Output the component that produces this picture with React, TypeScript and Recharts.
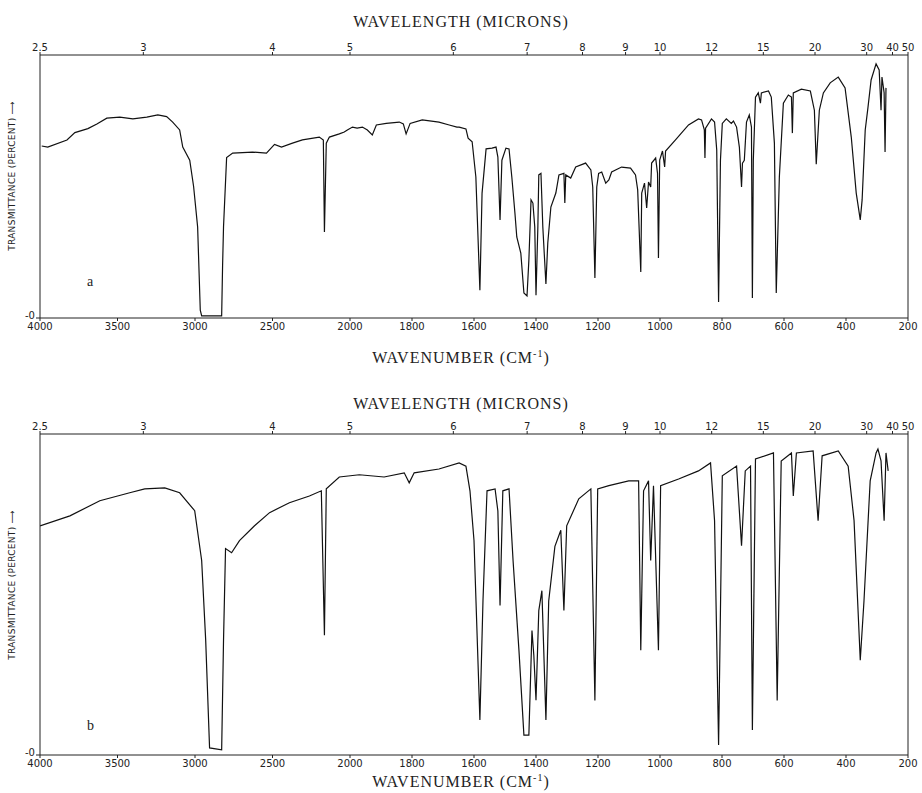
import React from 'react';
import { LineChart, Line, XAxis, YAxis } from 'recharts';

const WIDTH = 922;

// bottom scale in cm-1, top scale in microns
const WAVENUMBER_TICKS = [4000, 3500, 3000, 2500, 2000, 1800, 1600, 1400, 1200, 1000, 800, 600, 400, 200];
const MICRON_TICKS = [2.5, 3, 4, 5, 6, 7, 8, 9, 10, 12, 15, 20, 30, 40, 50];

// spectrum a
const A_WN = [3989, 3950, 3826, 3775, 3691, 3633, 3569, 3485, 3401, 3311, 3240, 3183, 3144, 3099, 3079, 3034, 3009, 2983, 2966, 2957, 2828, 2822, 2816, 2796, 2757, 2629, 2539, 2487, 2442, 2371, 2307, 2198, 2172, 2165, 2153, 2133, 2069, 2037, 2017, 1992, 1977, 1960, 1944, 1928, 1915, 1883, 1841, 1828, 1819, 1806, 1767, 1713, 1680, 1655, 1648, 1626, 1619, 1606, 1594, 1581, 1574, 1561, 1542, 1529, 1523, 1516, 1510, 1497, 1487, 1478, 1468, 1462, 1449, 1439, 1429, 1423, 1416, 1410, 1404, 1400, 1394, 1391, 1384, 1378, 1368, 1362, 1352, 1336, 1326, 1310, 1307, 1304, 1288, 1272, 1240, 1223, 1217, 1210, 1204, 1198, 1188, 1175, 1165, 1156, 1124, 1095, 1079, 1072, 1062, 1059, 1050, 1043, 1037, 1030, 1027, 1014, 1008, 1005, 1001, 992, 985, 982, 950, 908, 876, 866, 857, 855, 853, 834, 824, 817, 811, 805, 799, 786, 770, 763, 753, 744, 737, 734, 728, 721, 712, 705, 702, 699, 692, 683, 676, 673, 650, 641, 631, 625, 615, 602, 586, 576, 573, 570, 544, 515, 502, 496, 486, 473, 451, 425, 403, 383, 367, 354, 348, 338, 329, 319, 303, 293, 287, 284, 277, 274, 271];
const A_T = [65.4, 65, 67.7, 70.5, 72, 73.8, 76, 76.4, 75.7, 76.4, 77.2, 76.6, 74.5, 71.5, 65, 60, 50, 34.6, 3, 0.8, 0.8, 20, 34.6, 61, 62.7, 63.1, 62.7, 66, 65, 66.5, 67.7, 68.8, 67.7, 32.7, 66.5, 68.8, 70, 70.7, 71.5, 72.6, 72.2, 72.6, 71.5, 69.6, 73.4, 74, 74.5, 73.8, 70, 74, 75.3, 74.5, 73.4, 72.6, 72.6, 71.9, 68.4, 67, 53.6, 10.6, 47.5, 64.3, 64.6, 65, 61.2, 37.3, 60, 64.6, 64.3, 53.6, 39.9, 30.8, 24.7, 9.5, 8.4, 22, 44.9, 43.7, 34.6, 8.7, 34.6, 54.4, 55, 34.6, 12.9, 28.5, 42.2, 47.5, 54.4, 55, 43.7, 54.4, 53.2, 57.4, 58.9, 56.3, 49.8, 15.2, 49.8, 55, 55.5, 51.3, 52.5, 55.5, 57.4, 57, 54.4, 48.7, 17.5, 47.5, 51.3, 41.8, 51.7, 49.8, 58.9, 60.8, 55, 22.8, 60, 63.5, 57.4, 63.5, 67.7, 73.4, 75.7, 75.3, 71.5, 60.8, 72.2, 75.7, 74.5, 63.9, 6.1, 60, 74, 75.7, 74, 74.9, 72.6, 65, 49.8, 58.9, 60, 74.5, 77.2, 72.6, 7.6, 60, 84, 85.6, 81.7, 85.6, 86.3, 84, 66.5, 9.5, 53.6, 81.7, 84.8, 84, 70.3, 85.6, 87, 86.3, 79, 58.5, 79, 85.6, 89.4, 91.6, 87.5, 68.8, 47.5, 37.3, 44.9, 71.5, 80.2, 90.5, 96.6, 94.3, 79, 91.6, 85.6, 63.1, 87.5];

// spectrum b
const B_WN = [4000, 3807, 3614, 3421, 3324, 3195, 3099, 3002, 2957, 2931, 2906, 2828, 2816, 2803, 2764, 2713, 2616, 2519, 2391, 2262, 2185, 2165, 2153, 2069, 1970, 1890, 1825, 1809, 1793, 1713, 1648, 1626, 1613, 1600, 1581, 1571, 1558, 1532, 1523, 1516, 1507, 1487, 1474, 1455, 1439, 1423, 1413, 1407, 1400, 1391, 1381, 1368, 1359, 1339, 1320, 1310, 1301, 1262, 1223, 1210, 1201, 1165, 1101, 1069, 1062, 1053, 1037, 1030, 1021, 1005, 998, 940, 876, 837, 824, 811, 799, 753, 737, 725, 708, 702, 692, 634, 622, 609, 576, 570, 560, 506, 490, 477, 425, 393, 374, 354, 342, 322, 303, 297, 287, 277, 271, 264];
const B_T = [71.4, 74.5, 79.2, 81.7, 82.9, 83.2, 81.7, 76.1, 60.6, 35.7, 2.2, 1.6, 35.7, 64.3, 63, 66.8, 71.4, 75.5, 78.6, 80.7, 82.3, 37.3, 82.9, 86.6, 87.3, 86.6, 87.9, 84.8, 87.9, 89.1, 91, 90, 82.3, 66.8, 10.9, 48.1, 82.3, 82.9, 76, 46.6, 82.3, 82.9, 60.6, 32.6, 6.2, 6.2, 38.8, 31, 17.1, 45, 51.2, 10.9, 48, 65, 70, 45, 71.4, 79.8, 82.9, 17, 82.9, 83.9, 85.4, 85.4, 32.6, 82.3, 85.4, 60.6, 83.9, 32.6, 83.9, 86, 88.5, 91, 73, 3.1, 87, 90, 65.2, 88.5, 90, 7.8, 92.2, 94.1, 17, 91.6, 94.1, 80.7, 94.1, 94.7, 73, 93.2, 94.7, 90, 73, 29.5, 48, 85.4, 94.1, 95.3, 91.6, 73, 94.1, 88.5];

// 4000-2000 is drawn at half the scale of 2000-200
const pos = (wn: number) => (wn >= 2000 ? 4000 - wn : 2000 + (2000 - wn) * 2);

const bottomTicks = WAVENUMBER_TICKS.map(pos);
const topTicks = MICRON_TICKS.map((m) => pos(10000 / m));

const fmtBottom = (v: number) => {
  const i = bottomTicks.findIndex((t) => Math.abs(t - v) < 0.5);
  return i >= 0 ? String(WAVENUMBER_TICKS[i]) : '';
};
const fmtTop = (v: number) => {
  const i = topTicks.findIndex((t) => Math.abs(t - v) < 0.5);
  return i >= 0 ? String(MICRON_TICKS[i]) : '';
};

const tickFont = { fontSize: 10, fill: '#222', fontFamily: 'DejaVu Sans' };
const titleStyle: React.CSSProperties = {
  position: 'absolute',
  left: 0,
  width: WIDTH,
  textAlign: 'center',
  fontFamily: 'Liberation Serif',
  fontSize: 16,
  letterSpacing: 1,
  color: '#222',
  lineHeight: '18px',
};

interface PanelProps {
  wn: number[];
  tr: number[];
  letter: string;
  titleY: number;
  plotTop: number;
  zeroY: number;
  footY: number;
  letterY: number;
  labelY: number;
}

function Panel({ wn, tr, letter, titleY, plotTop, zeroY, footY, letterY, labelY }: PanelProps) {
  const data = wn.map((w, i) => ({ p: pos(w), t: tr[i] }));
  const chartH = zeroY + 30;
  return (
    <>
      <div style={{ ...titleStyle, top: titleY - 9 }}>WAVELENGTH (MICRONS)</div>
      <LineChart
        style={{ position: 'absolute', left: 0, top: 0 }}
        width={WIDTH}
        height={chartH}
        data={data}
        margin={{ top: plotTop - 20, right: 13, bottom: chartH - zeroY - 20, left: 10 }}
      >
        <XAxis
          xAxisId="wn"
          dataKey="p"
          type="number"
          domain={[0, 5600]}
          ticks={bottomTicks}
          tickFormatter={fmtBottom}
          interval={0}
          height={20}
          tickSize={3}
          tickMargin={2}
          tick={tickFont}
          stroke="#222"
          allowDataOverflow
        />
        <XAxis
          xAxisId="um"
          orientation="top"
          dataKey="p"
          type="number"
          domain={[0, 5600]}
          ticks={topTicks}
          tickFormatter={fmtTop}
          interval={0}
          height={20}
          tickSize={3}
          tickMargin={1}
          tick={tickFont}
          stroke="#222"
          allowDataOverflow
        />
        <YAxis
          yAxisId="t"
          domain={[0, 100]}
          ticks={[0]}
          tickFormatter={() => '-0'}
          width={30}
          tickSize={4}
          tickMargin={1}
          tick={{ ...tickFont, dy: -3 }}
          stroke="#222"
        />
        <YAxis yAxisId="r" orientation="right" domain={[0, 100]} ticks={[]} width={1} stroke="#222" />
        <Line
          xAxisId="wn"
          yAxisId="t"
          dataKey="t"
          type="linear"
          stroke="#111"
          strokeWidth={1.2}
          dot={false}
          isAnimationActive={false}
        />
      </LineChart>
      <svg style={{ position: 'absolute', left: 0, top: 0 }} width={40} height={chartH}>
        <text
          x={0}
          y={0}
          transform={`translate(15,${labelY}) rotate(-90)`}
          textAnchor="middle"
          fontFamily="DejaVu Sans"
          fontSize={9}
          letterSpacing={0.3}
          fill="#222"
        >
          TRANSMITTANCE (PERCENT) ⟶
        </text>
      </svg>
      <div style={{ position: 'absolute', left: 87, top: letterY - 9, fontFamily: 'Liberation Serif', fontSize: 14, color: '#222' }}>
        {letter}
      </div>
      <div style={{ ...titleStyle, top: footY - 9 }}>
        WAVENUMBER (CM<sup style={{ fontSize: 10, lineHeight: 0 }}>-1</sup>)
      </div>
    </>
  );
}

export default function App() {
  return (
    <div style={{ position: 'absolute', left: 0, top: 0, width: WIDTH, height: 793, background: '#fff', overflow: 'hidden' }}>
      <div style={{ position: 'absolute', left: 0, top: 0, width: WIDTH, height: 380 }}>
        <Panel wn={A_WN} tr={A_T} letter="a" titleY={22} plotTop={55} zeroY={318} footY={358} letterY={283} labelY={176} />
      </div>
      <div style={{ position: 'absolute', left: 0, top: 0, width: WIDTH, height: 793 }}>
        <Panel wn={B_WN} tr={B_T} letter="b" titleY={404} plotTop={434} zeroY={755} footY={782} letterY={727} labelY={585} />
      </div>
    </div>
  );
}
